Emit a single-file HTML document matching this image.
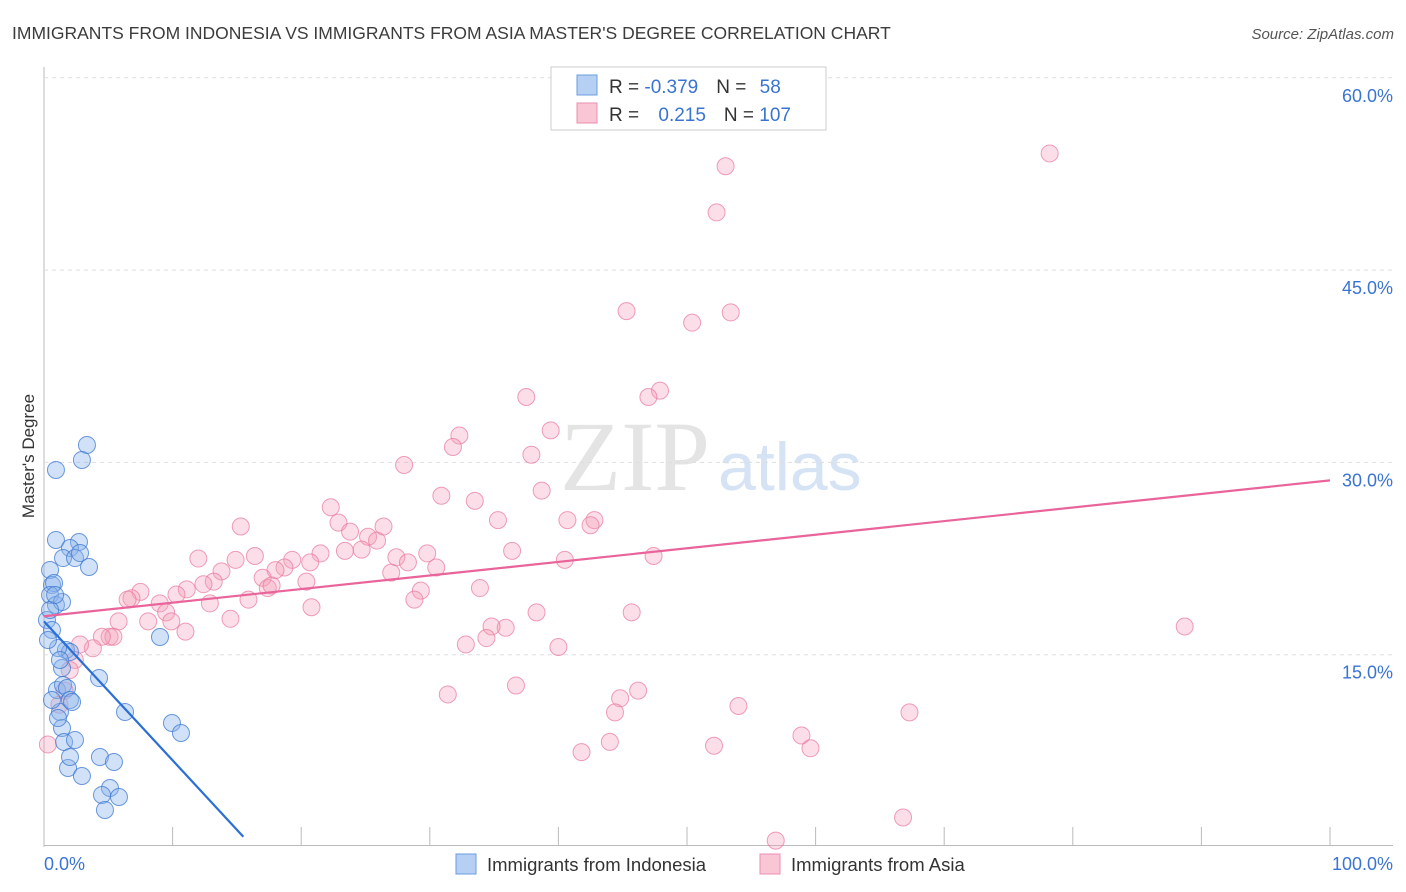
<!DOCTYPE html>
<html><head><meta charset="utf-8"><style>
body{margin:0;background:#fff;font-family:"Liberation Sans",sans-serif}
svg{display:block}
</style></head><body>
<svg id="c" width="1406" height="892" xmlns="http://www.w3.org/2000/svg">
<text x="12" y="39" font-size="17.5" fill="#3c3c3c">IMMIGRANTS FROM INDONESIA VS IMMIGRANTS FROM ASIA MASTER'S DEGREE CORRELATION CHART</text>
<text x="1394" y="39" font-size="15" fill="#555" font-style="italic" text-anchor="end">Source: ZipAtlas.com</text>
<text x="34" y="456" font-size="17" fill="#333" text-anchor="middle" transform="rotate(-90 34 456)">Master's Degree</text>
<text x="560" y="490" font-size="100" fill="#e4e4e4" font-family="Liberation Serif,serif">ZIP</text>
<text x="718" y="490" font-size="68" fill="#d5e3f5">atlas</text>
<g id="grid"></g><g id="pts"></g><g id="trend"></g>
<g>
<rect x="551" y="67" width="275" height="63" fill="#fff" stroke="#ccc"/>
<rect x="577" y="75" width="20" height="20" fill="#b5d0f3" stroke="#6a9de0"/>
<rect x="577" y="103" width="20" height="20" fill="#f8c6d4" stroke="#ec8fae"/>
<text x="609" y="93" font-size="19" fill="#333">R = <tspan fill="#3a74d2">-0.379</tspan><tspan dx="18">N = </tspan><tspan fill="#3a74d2" dx="8">58</tspan></text>
<text x="609" y="121" font-size="19" fill="#333">R = <tspan fill="#3a74d2" dx="14">0.215</tspan><tspan dx="18">N = </tspan><tspan fill="#3a74d2">107</tspan></text>
</g>
<text x="44" y="870" font-size="18" fill="#3a74d2">0.0%</text>
<text x="1393" y="870" font-size="18" fill="#3a74d2" text-anchor="end">100.0%</text>
<g>
<rect x="456" y="854" width="20" height="20" fill="#b5d0f3" stroke="#6a9de0"/>
<text x="487" y="871" font-size="18.5" fill="#333">Immigrants from Indonesia</text>
<rect x="760" y="854" width="20" height="20" fill="#f8c6d4" stroke="#ec8fae"/>
<text x="791" y="871" font-size="18.5" fill="#333">Immigrants from Asia</text>
</g>
</svg>
<script>
const yTicks=[15,30,45,60];
const xTicks=[0,10,20,30,40,50,60,70,80,90,100];
const blueX=[3.34,2.95,0.93,0.93,2.72,2.02,1.48,2.41,2.80,3.50,0.47,0.62,0.78,0.47,0.93,1.40,0.23,0.62,9.02,1.71,2.02,1.09,1.40,1.01,1.48,1.79,4.28,2.02,1.24,1.40,6.30,9.95,10.65,1.56,2.41,1.87,2.02,2.95,4.35,5.44,5.13,4.51,5.83,4.74,0.62,1.24,0.31,2.18,1.09,0.47,0.86];
const blueY=[31.36,30.19,29.41,23.95,23.79,23.32,22.54,22.54,22.93,21.84,21.61,20.44,20.59,19.66,18.88,19.11,17.71,16.93,16.38,15.37,15.21,15.52,13.96,12.25,12.64,12.40,13.18,11.47,10.53,9.28,10.53,9.67,8.89,8.19,8.35,6.16,7.02,5.54,7.02,6.63,4.60,4.06,3.90,2.89,11.47,14.59,16.15,11.31,10.06,18.49,19.66];
const pinkX=[78.2,53.0,52.3,45.3,50.4,53.4,47.9,47.0,37.5,32.3,31.8,39.4,37.9,28.0,38.7,30.9,33.5,22.3,35.3,40.7,42.8,42.5,15.3,22.9,23.8,25.2,25.9,26.4,23.4,24.7,36.4,21.5,19.3,27.4,29.8,12.0,16.4,14.9,40.5,47.4,30.5,28.3,20.7,18.7,13.8,18.0,27.0,17.0,13.2,11.1,20.4,12.4,17.4,17.7,10.3,7.5,6.8,6.5,9.0,15.9,12.9,29.3,28.8,33.9,20.8,9.5,14.5,8.1,5.8,9.9,45.7,38.3,35.9,34.8,11.0,5.1,5.4,4.5,3.8,32.8,40.0,34.4,2.4,2.8,36.7,46.2,31.4,88.7,44.8,44.4,54.0,67.3,52.1,44.0,41.8,58.9,59.6,66.8,56.9,2.0,1.2,0.3,1.6];
const pinkY=[54.1,53.1,49.5,41.8,40.9,41.7,35.6,35.1,35.1,32.1,31.2,32.5,30.6,29.8,27.8,27.4,27.0,26.5,25.5,25.5,25.5,25.1,25.0,25.3,24.6,24.2,23.9,25.0,23.1,23.2,23.1,22.9,22.4,22.6,22.9,22.5,22.7,22.4,22.4,22.7,21.8,22.2,22.2,21.8,21.5,21.6,21.4,21.0,20.7,20.1,20.7,20.5,20.2,20.4,19.7,19.9,19.4,19.3,19.0,19.3,19.0,20.0,19.3,20.2,18.7,18.3,17.8,17.6,17.6,17.6,18.3,18.3,17.1,17.2,16.8,16.4,16.4,16.4,15.5,15.8,15.6,16.3,14.6,15.8,12.6,12.2,11.9,17.2,11.6,10.5,11.0,10.5,7.9,8.2,7.4,8.7,7.7,2.3,0.5,13.8,11.1,8.0,12.2];
const pinkTrend=[0,18.0,100,28.6];
const blueTrend=[0,17.6,15.5,0.8];
const NS='http://www.w3.org/2000/svg';
const X=v=>44+v*12.86, Y=v=>847-v*12.82;
function mk(tag,attrs,parent){const e=document.createElementNS(NS,tag);for(const k in attrs)e.setAttribute(k,attrs[k]);parent.appendChild(e);return e;}
const grid=document.getElementById('grid');
const svg=document.getElementById('c');
mk('line',{x1:44,y1:67,x2:44,y2:847,stroke:'#bbb'},grid);
mk('line',{x1:44,y1:845.5,x2:1393,y2:845.5,stroke:'#bbb'},grid);
yTicks.forEach(t=>{
 const l=mk('line',{x1:44,x2:1393,y1:Y(t),y2:Y(t),stroke:'#ddd','stroke-dasharray':'4 4'},grid);
 
 
 const tx=mk('text',{x:1393,y:Y(t)+24,'font-size':18,fill:'#3a74d2','text-anchor':'end'},svg);
 tx.textContent=t.toFixed(1)+'%';
 
 
});
xTicks.forEach(t=>{
 const l=mk('line',{x1:X(t),x2:X(t),y1:827,y2:846,stroke:'#bbb'},grid);
 
 
});
const pts=document.getElementById('pts');
pinkX.forEach((v,i)=>{
 const c=mk('circle',{cx:X(v),cy:Y(pinkY[i]),r:8.5,fill:'rgba(244,160,185,0.35)',stroke:'rgba(232,120,155,0.7)','stroke-width':1},pts);
 
 
});
blueX.forEach((v,i)=>{
 const c=mk('circle',{cx:X(v),cy:Y(blueY[i]),r:8.5,fill:'rgba(140,180,235,0.4)',stroke:'rgba(60,120,210,0.75)','stroke-width':1},pts);
 
 
});
const tr=document.getElementById('trend');
const p=mk('line',{x1:X(pinkTrend[0]),y1:Y(pinkTrend[1]),x2:X(pinkTrend[2]),y2:Y(pinkTrend[3]),stroke:'#e8649a','stroke-width':2.2},tr);


const b=mk('line',{x1:X(blueTrend[0]),y1:Y(blueTrend[1]),x2:X(blueTrend[2]),y2:Y(blueTrend[3]),stroke:'#2a6fd6','stroke-width':2.2},tr);


</script>
</body></html>
